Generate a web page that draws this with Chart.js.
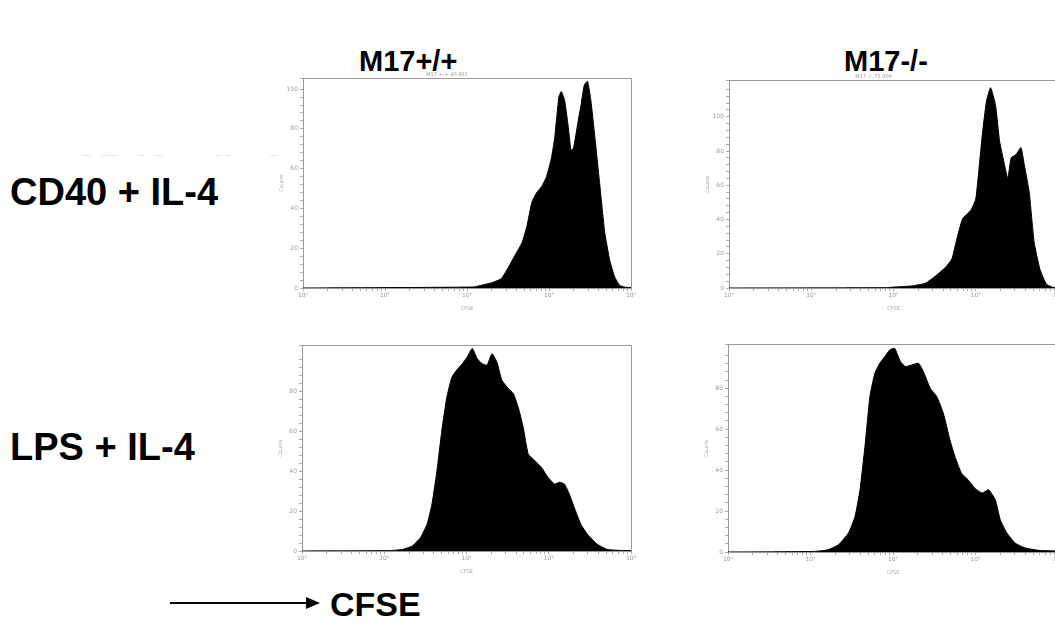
<!DOCTYPE html>
<html>
<head>
<meta charset="utf-8">
<script src="https://cdn.jsdelivr.net/npm/chart.js@4"></script>
<style>
  body { margin: 0; width: 1055px; height: 644px; overflow: hidden; background: #fff; position: relative;
         font-family: "Liberation Sans", Arial, sans-serif; }
  .lbl { position: absolute; font-weight: bold; color: #000; line-height: 1; white-space: nowrap; }
  canvas { position: absolute; }
  .ghost { position: absolute; left: 72px; top: 150px; height: 6px; overflow: hidden; color: #e4e4e4;
           font: bold 38px "Liberation Sans", Arial, sans-serif; line-height: 1; }
  #arrow { position: absolute; left: 170px; top: 596px; width: 150px; height: 14px; }
</style>
</head>
<body>
<div class="lbl" style="left:359px; top:47px; font-size:29px;">M17+/+</div>
<div class="lbl" style="left:844px; top:47px; font-size:29px;">M17-/-</div>
<div class="ghost">CD40 + IL-4</div>
<div class="lbl" style="left:10px; top:173px; font-size:38px;">CD40 + IL-4</div>
<div class="lbl" style="left:10px; top:428px; font-size:38px;">LPS + IL-4</div>
<svg id="arrow" viewBox="0 0 150 14"><line x1="0" y1="7" x2="138" y2="7" stroke="#000" stroke-width="2"/><polygon points="136,1 150,7 136,13" fill="#000"/></svg>
<div class="lbl" style="left:330px; top:587px; font-size:34px;">CFSE</div>

<canvas id="cd40Wt"></canvas>
<canvas id="cd40Ko"></canvas>
<canvas id="lpsWt"></canvas>
<canvas id="lpsKo"></canvas>

<script>
// CFSE channel in decades (10^0 .. 10^4) and event counts
const cd40WtX = [0, 2.08, 2.18, 2.30, 2.42, 2.51, 2.59, 2.67, 2.73, 2.79, 2.85, 2.91, 2.97, 3.03, 3.07, 3.12, 3.15, 3.19, 3.23, 3.27, 3.30, 3.35, 3.39, 3.43, 3.47, 3.51, 3.56, 3.62, 3.68, 3.74, 3.80, 3.86, 3.92, 4.0];
const cd40WtY = [0, 0.5, 1.4, 2.6, 4.8, 10.8, 16.8, 22.7, 31, 43, 48, 51, 56, 65.5, 75.7, 96, 98.8, 94.5, 82.6, 69, 70.6, 82.6, 92, 102, 104, 94.5, 75.7, 51.8, 27.9, 14.2, 5.6, 1.4, 0.5, 0.2];

const cd40KoX = [0, 1.9, 2.02, 2.22, 2.39, 2.51, 2.63, 2.71, 2.76, 2.84, 2.94, 3.0, 3.04, 3.08, 3.13, 3.18, 3.24, 3.29, 3.35, 3.39, 3.43, 3.49, 3.55, 3.59, 3.65, 3.71, 3.78, 3.86, 3.94, 4.0];
const cd40KoY = [0, 0.2, 0.6, 1.2, 2.8, 7, 12, 17, 26.7, 40.5, 45.4, 52, 70, 89.7, 109, 117, 107, 85.7, 72, 64, 76, 78, 82, 72, 56, 26.7, 11, 2.2, 0.4, 0];

const lpsWtX = [0, 1.06, 1.22, 1.34, 1.44, 1.52, 1.58, 1.64, 1.70, 1.76, 1.82, 1.88, 1.95, 2.01, 2.07, 2.13, 2.19, 2.25, 2.31, 2.37, 2.43, 2.51, 2.57, 2.63, 2.69, 2.75, 2.83, 2.91, 2.99, 3.07, 3.13, 3.19, 3.25, 3.31, 3.39, 3.47, 3.59, 3.71, 3.87, 4.0];
const lpsWtY = [0, 0.2, 0.8, 2.5, 6.7, 13.4, 23.5, 40, 60.5, 77, 87, 90.8, 94, 97.5, 101.7, 96.6, 94, 93.3, 99, 94.8, 85.7, 81.5, 79, 72, 62, 48.7, 45.4, 42, 37, 33.6, 34.5, 33.6, 28.6, 21.8, 13.4, 8.4, 3.4, 0.8, 0.3, 0.2];

const lpsKoX = [0, 1.05, 1.21, 1.34, 1.46, 1.54, 1.60, 1.66, 1.72, 1.78, 1.84, 1.90, 1.96, 2.02, 2.09, 2.15, 2.23, 2.31, 2.37, 2.45, 2.53, 2.61, 2.69, 2.75, 2.83, 2.91, 2.99, 3.08, 3.16, 3.24, 3.30, 3.38, 3.48, 3.60, 3.77, 3.97, 4.0];
const lpsKoY = [0, 0.3, 1.1, 3.6, 9.3, 17.4, 30.4, 51.5, 76, 87.3, 92.2, 95.4, 98.7, 99.5, 93, 90.6, 91.4, 92.2, 88, 80, 76, 67.8, 54.8, 46.7, 38.5, 35.3, 31.2, 28.8, 30.4, 25.5, 15.8, 9.3, 4.4, 2, 0.8, 0.5, 0.5];

const decadeLabels = ['10\u2070', '10\u00b9', '10\u00b2', '10\u00b3', '10\u2074'];
const countLabelStep = 20;

const AXIS_W = 24, AXIS_H = 24, PAD_TOP = 12, PAD_RIGHT = 8;

const framePlugin = {
    id: 'frame',
    afterDraw(chart) {
        const { ctx, chartArea: a } = chart;
        ctx.save();
        ctx.strokeStyle = '#9a9a9a';
        ctx.lineWidth = 1;
        ctx.beginPath();
        ctx.moveTo(a.left, a.top + 0.5);
        ctx.lineTo(a.right + 0.5, a.top + 0.5);
        ctx.lineTo(a.right + 0.5, a.bottom);
        ctx.stroke();
        const t = chart.options.plugins.frame.text;
        if (t) {
            ctx.fillStyle = '#999';
            ctx.font = '5px "DejaVu Sans"';
            ctx.textAlign = 'center';
            ctx.fillText(t, (a.left + a.right) / 2 - 20, a.top - 2);
        }
        ctx.restore();
    }
};

function logTicks() {
    const out = [];
    for (let d = 0; d < 4; d++) {
        out.push({ value: d });
        for (let m = 2; m <= 9; m++) out.push({ value: d + Math.log10(m) });
    }
    out.push({ value: 4 });
    return out;
}

function makePanel(id, box, xs, ys, yMax, title) {
    const canvas = document.getElementById(id);
    const w = box.right - box.left + AXIS_W + PAD_RIGHT;
    const h = box.bottom - box.top + PAD_TOP + AXIS_H;
    canvas.width = w;
    canvas.height = h;
    canvas.style.left = (box.left - AXIS_W) + 'px';
    canvas.style.top = (box.top - PAD_TOP) + 'px';

    const tiny = { size: 6, family: '"DejaVu Sans"' };
    return new Chart(canvas, {
        type: 'line',
        data: {
            datasets: [{
                data: xs.map((x, i) => ({ x: x, y: ys[i] })),
                borderColor: '#000',
                backgroundColor: '#000',
                borderWidth: 1,
                fill: 'origin',
                pointRadius: 0,
                tension: 0.15
            }]
        },
        options: {
            responsive: false,
            animation: false,
            devicePixelRatio: 1,
            layout: { padding: { top: PAD_TOP, right: PAD_RIGHT, left: 0, bottom: 0 } },
            plugins: {
                legend: { display: false },
                tooltip: { enabled: false },
                frame: { text: title }
            },
            scales: {
                x: {
                    type: 'linear',
                    min: 0,
                    max: 4,
                    afterBuildTicks: (scale) => { scale.ticks = logTicks(); },
                    afterFit: (scale) => { scale.height = AXIS_H; },
                    grid: { drawOnChartArea: false, drawTicks: true, tickLength: 3, color: '#aaa' },
                    border: { display: true, color: '#999' },
                    ticks: {
                        autoSkip: false,
                        maxRotation: 0,
                        padding: 1,
                        color: '#999',
                        font: tiny,
                        callback: (v) => Number.isInteger(v) ? decadeLabels[v] : ''
                    },
                    title: { display: true, text: 'CFSE', color: '#aaa', font: { size: 5, family: '"DejaVu Sans"' }, padding: 0 }
                },
                y: {
                    min: 0,
                    max: yMax,
                    afterFit: (scale) => { scale.width = AXIS_W; },
                    grid: { drawOnChartArea: false, drawTicks: true, tickLength: 3, color: '#aaa' },
                    border: { display: true, color: '#999' },
                    ticks: {
                        stepSize: 4,
                        autoSkip: false,
                        padding: 2,
                        color: '#999',
                        font: tiny,
                        callback: (v) => (v % countLabelStep === 0) ? String(v) : ''
                    },
                    title: { display: true, text: 'Counts', color: '#aaa', font: { size: 5, family: '"DejaVu Sans"' }, padding: 0 }
                }
            }
        },
        plugins: [framePlugin]
    });
}

makePanel('cd40Wt', { left: 303, top: 78, right: 631, bottom: 288 }, cd40WtX, cd40WtY, 105.6, 'M17 +/+ 40.001');
makePanel('cd40Ko', { left: 729, top: 80, right: 1058, bottom: 288 }, cd40KoX, cd40KoY, 121.5, 'M17 -/- 75.006');
makePanel('lpsWt', { left: 302, top: 345, right: 631, bottom: 551 }, lpsWtX, lpsWtY, 103.4, '');
makePanel('lpsKo', { left: 728, top: 344, right: 1058, bottom: 552 }, lpsKoX, lpsKoY, 101.6, '');
</script>
</body>
</html>
